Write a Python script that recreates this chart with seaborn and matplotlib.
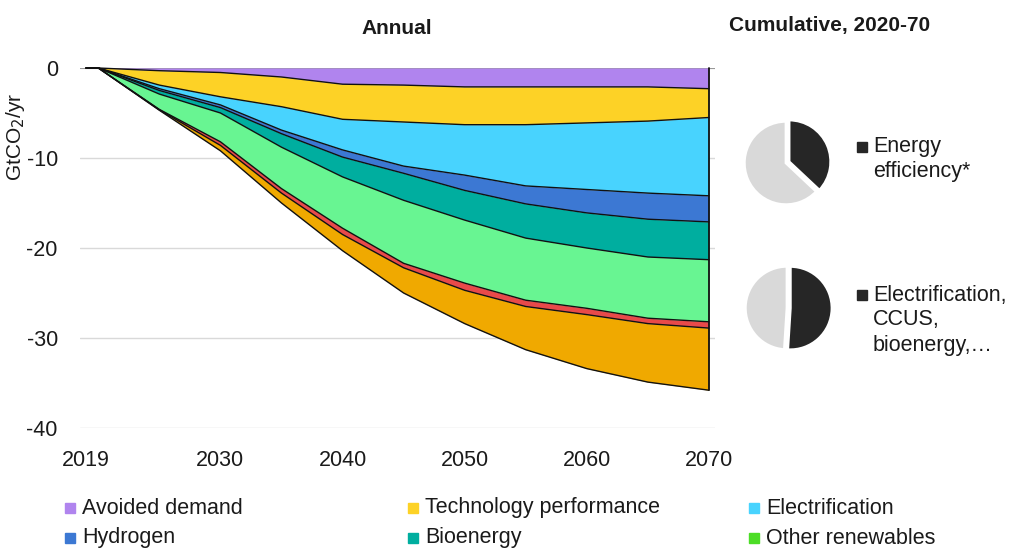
import matplotlib.pyplot as plt
import numpy as np
import seaborn as sns
import pandas as pd
from matplotlib.patches import Rectangle

# 年份与各技术减排量（GtCO2/yr，正值，绘制时取负）
years = [2019, 2020, 2025, 2030, 2035, 2040, 2045, 2050, 2055, 2060, 2065, 2070]
avoided_demand = [0, 0, 0.3, 0.5, 1.0, 1.8, 1.9, 2.1, 2.1, 2.1, 2.1, 2.3]
tech_performance = [0, 0, 1.6, 2.7, 3.3, 3.9, 4.1, 4.2, 4.2, 4.0, 3.8, 3.2]
electrification = [0, 0, 0.4, 0.9, 2.6, 3.4, 4.9, 5.6, 6.8, 7.4, 8.0, 8.7]
hydrogen = [0, 0, 0.2, 0.3, 0.4, 0.8, 0.8, 1.7, 2.0, 2.6, 2.9, 2.9]
bioenergy = [0, 0, 0.4, 0.6, 1.5, 2.2, 3.0, 3.3, 3.8, 3.9, 4.2, 4.2]
other_renewables = [0, 0, 1.7, 3.2, 4.6, 5.7, 7.0, 7.0, 6.9, 6.7, 6.8, 6.9]
other_fuel_shifts = [0, 0, 0.05, 0.4, 0.5, 0.7, 0.5, 0.8, 0.7, 0.7, 0.6, 0.7]
ccus = [0, 0, 0.05, 0.6, 1.1, 1.8, 2.8, 3.7, 4.8, 6.0, 6.5, 6.9]

layers = [avoided_demand, tech_performance, electrification, hydrogen,
          bioenergy, other_renewables, other_fuel_shifts, ccus]
layer_colors = ['#b084ee', '#fdd226', '#48d3fe', '#3c78d3',
                '#00ae9f', '#68f592', '#e84a4a', '#f0a900']

legend_labels = ['Avoided demand', 'Technology performance', 'Electrification',
                 'Hydrogen', 'Bioenergy', 'Other renewables']
legend_colors = ['#b084ee', '#fdd226', '#48d3fe', '#3c78d3', '#00ae9f', '#4cdd26']

# 累计减排占比（饼图）
pie_labels = ['Energy\nefficiency*', 'Electrification,\nCCUS,\nbioenergy,…']
pie_shares = [37, 51]

sns.set_theme(style='white')
plt.rcParams['font.family'] = ['Liberation Sans', 'DejaVu Sans']
plt.rcParams['axes.unicode_minus'] = False

fig = plt.figure(figsize=(10.12, 5.48), dpi=100)
W, H = 1012, 548
ax = fig.add_axes([80 / W, 1 - 428 / H, 635 / W, 360 / H])

# 堆叠面积
df = pd.DataFrame({'year': years})
lower = np.zeros(len(years))
for i, (vals, col) in enumerate(zip(layers, layer_colors)):
    upper = lower.copy()
    lower = upper - np.array(vals)
    ax.fill_between(years, upper, lower, color=col, lw=0, zorder=2, clip_on=False)
    df['b%d' % i] = lower
    sns.lineplot(data=df, x='year', y='b%d' % i, ax=ax, color='#111111',
                 lw=1.0, zorder=3, clip_on=False)
ax.plot([years[-1], years[-1]], [0, lower[-1]], color='#111111', lw=1.3, zorder=3,
        clip_on=False)

ax.set_xlim(2018.5, 2070.5)
ax.set_ylim(-40, 0)
ax.set_yticks([0, -10, -20, -30, -40])
ax.set_xticks([2019, 2030, 2040, 2050, 2060, 2070])
ax.grid(axis='y', color='#d9d9d9', lw=1)
ax.axhline(0, color='#8c8c8c', lw=1.2, zorder=1)
for s in ax.spines.values():
    s.set_visible(False)
ax.tick_params(axis='both', labelsize=15.5, colors='#1a1a1a', length=0)
ax.tick_params(axis='y', pad=16)
ax.tick_params(axis='x', pad=16)
ax.set_xlabel('')
ax.set_ylabel('')

fig.text(16 / W, 1 - 137 / H, 'GtCO$_2$/yr', rotation=90, fontsize=15,
         ha='center', va='center', color='#1a1a1a')
fig.text(397 / W, 1 - 28 / H, 'Annual', fontsize=15, fontweight='bold',
         ha='center', va='center', color='#1a1a1a')
fig.text(830 / W, 1 - 26 / H, 'Cumulative, 2020-70', fontsize=15, fontweight='bold',
         ha='center', va='center', color='#1a1a1a')

# 饼图
pie_centers = [(786, 163), (787, 308)]
for (cx, cy), share, lab in zip(pie_centers, pie_shares, pie_labels):
    pax = fig.add_axes([(cx - 50) / W, 1 - (cy + 50) / H, 100 / W, 100 / H])
    pax.pie([share, 100 - share], colors=['#262626', '#d9d9d9'], startangle=90,
            counterclock=False, explode=[0.08, 0],
            wedgeprops=dict(edgecolor='white', linewidth=2))
    pax.set_xlim(-1.2, 1.2)
    pax.set_ylim(-1.2, 1.2)
    pax.set_aspect('equal')
    pax.axis('off')

fig.patches.append(Rectangle((857 / W, 1 - 152 / H), 10 / W, 10 / H,
                             transform=fig.transFigure, color='#262626'))
fig.text(873 / W, 1 - 146 / H, 'Energy', fontsize=15.5, va='center', color='#1a1a1a')
fig.text(873 / W, 1 - 171 / H, 'efficiency*', fontsize=15.5, va='center', color='#1a1a1a')
fig.patches.append(Rectangle((857 / W, 1 - 300 / H), 10 / W, 10 / H,
                             transform=fig.transFigure, color='#262626'))
for k, line in enumerate(pie_labels[1].split('\n')):
    fig.text(873 / W, 1 - (295 + 25 * k) / H, line, fontsize=15.5, va='center',
             color='#1a1a1a')

# 图例
col_x = [65, 408, 749]
row_y = [508, 538]
for i, (lab, col) in enumerate(zip(legend_labels, legend_colors)):
    x = col_x[i % 3]
    y = row_y[i // 3]
    fig.patches.append(Rectangle((x / W, 1 - (y + 5) / H), 10 / W, 10 / H,
                                 transform=fig.transFigure, color=col))
    fig.text((x + 17) / W, 1 - y / H, lab, fontsize=15.5, va='center', color='#1a1a1a')

fig.savefig('out.png', dpi=100)
